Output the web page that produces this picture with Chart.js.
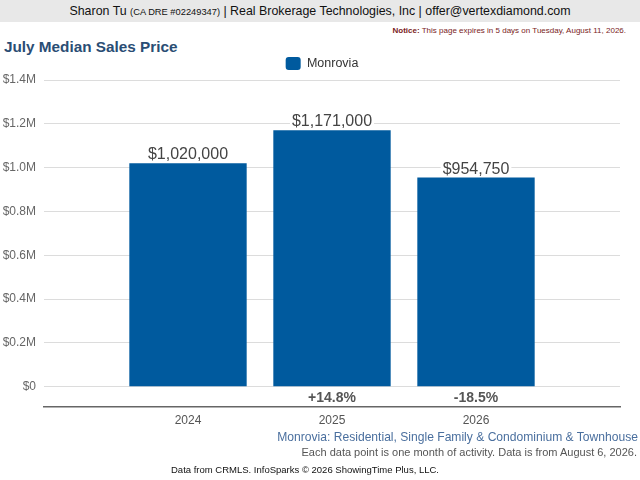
<!DOCTYPE html>
<html>
<head>
<meta charset="utf-8">
<script src="https://cdn.jsdelivr.net/npm/chart.js@4"></script>
<style>
  html, body { margin: 0; padding: 0; width: 640px; height: 480px; overflow: hidden; background: #fff;
    font-family: "Liberation Sans", Arial, sans-serif; }
  .hdr { position: absolute; left: 0; top: 0; width: 640px; height: 22px; background: #e8e8e8;
    text-align: center; font-size: 12.4px; line-height: 22px; color: #111; }
  .hdr small { font-size: 9.3px; }
  .notice { position: absolute; right: 14px; top: 26px; font-size: 8px; color: #7a1c1c; }
  .title { position: absolute; left: 4px; top: 38px; font-size: 15.3px; font-weight: bold; color: #2a4d74; }
  .sub1 { position: absolute; right: 2px; top: 430px; font-size: 12.1px; color: #4a6f9e; }
  .sub2 { position: absolute; right: 3px; top: 446px; font-size: 11px; color: #555; }
  .src { position: absolute; left: 0; width: 610px; text-align: center; top: 464px; font-size: 9.5px; color: #111; }
  .wrap { position: absolute; left: 0; top: 47px; width: 640px; height: 388px; }
</style>
</head>
<body>
<div class="hdr">Sharon Tu <small>(CA DRE #02249347)</small> | Real Brokerage Technologies, Inc | offer@vertexdiamond.com</div>
<div class="notice"><b>Notice:</b> This page expires in 5 days on Tuesday, August 11, 2026.</div>
<div class="title">July Median Sales Price</div>
<div class="wrap"><canvas id="c" width="640" height="388"></canvas></div>
<div class="sub1">Monrovia: Residential, Single Family &amp; Condominium &amp; Townhouse</div>
<div class="sub2">Each data point is one month of activity. Data is from August 6, 2026.</div>
<div class="src">Data from CRMLS. InfoSparks © 2026 ShowingTime Plus, LLC.</div>
<script>
// categories (padded with empty slots on each side, like the original)
const years = ['', '2024', '2025', '2026', ''];
const medianPrice = [null, 1020000, 1171000, 954750, null];
const yTicks = [0, 200000, 400000, 600000, 800000, 1000000, 1200000, 1400000];
const seriesName = 'Monrovia';
const barColor = '#005a9e';

function money(v) {
  return '$' + v.toLocaleString('en-US');
}
function tickMoney(v) {
  return v === 0 ? '$0' : '$' + (v / 1e6).toFixed(1) + 'M';
}

// value labels above the bars, change % below the zero line
const barLabels = {
  id: 'barLabels',
  afterLayout(chart) {
    // legend sits a bit right of the canvas centre
    const shift = (chart.chartArea.left + chart.chartArea.right) / 2 - 10 - (chart.legend.left + chart.legend.right) / 2;
    chart.legend.left += shift;
    chart.legend.right += shift;
  },
  afterDatasetsDraw(chart) {
    const ctx = chart.ctx;
    const meta = chart.getDatasetMeta(0);
    const yScale = chart.scales.y;
    ctx.save();
    ctx.textAlign = 'center';
    meta.data.forEach((bar, i) => {
      const v = medianPrice[i];
      if (v == null) return;
      ctx.font = '16px "Liberation Sans", Arial, sans-serif';
      const txt = money(v);
      const w = ctx.measureText(txt).width;
      ctx.fillStyle = '#fff';
      ctx.fillRect(bar.x - w / 2 - 2, bar.y - 20, w + 4, 17);
      ctx.fillStyle = '#444';
      ctx.textBaseline = 'alphabetic';
      ctx.fillText(txt, bar.x, bar.y - 4);

      const prev = medianPrice[i - 1];
      if (prev != null) {
        const pct = (v - prev) / prev * 100;
        const s = (pct >= 0 ? '+' : '') + pct.toFixed(1) + '%';
        ctx.font = 'bold 14px "Liberation Sans", Arial, sans-serif';
        ctx.fillStyle = '#555';
        ctx.textBaseline = 'middle';
        const y0 = yScale.getPixelForValue(0);
        ctx.fillText(s, bar.x, (y0 + chart.chartArea.bottom) / 2 + 1);
      }
    });
    ctx.restore();
  }
};

new Chart(document.getElementById('c'), {
  type: 'bar',
  data: {
    labels: years,
    datasets: [{
      label: seriesName,
      data: medianPrice,
      backgroundColor: barColor,
      borderWidth: 0,
      categoryPercentage: 1,
      barPercentage: 0.815,
    }],
  },
  options: {
    responsive: false,
    animation: false,
    devicePixelRatio: 1,
    layout: { padding: { left: 0, right: 20, top: 0, bottom: 0 } },
    scales: {
      x: {
        offset: false,
        grid: { display: false, drawTicks: false },
        border: { display: true, color: '#666', width: 1.5 },
        ticks: { color: '#555', font: { size: 12, family: '"Liberation Sans", Arial' }, padding: 7, maxRotation: 0, autoSkip: false },
      },
      y: {
        min: -90909,
        max: 1400000,
        afterBuildTicks: (s) => { s.ticks = yTicks.map((v) => ({ value: v })); },
        afterFit: (s) => { s.width = 44; },
        grid: { color: '#dcdcdc', drawTicks: false, lineWidth: 1 },
        border: { display: false },
        ticks: { color: '#666', font: { size: 12, family: '"Liberation Sans", Arial' }, padding: 8, callback: tickMoney },
      },
    },
    plugins: {
      legend: {
        display: true,
        labels: {
          color: '#333',
          font: { size: 12.5, family: '"Liberation Sans", Arial' },
          boxWidth: 15,
          boxHeight: 13,
          useBorderRadius: true,
          borderRadius: 3,
          padding: 10,
        },
      },
      tooltip: { enabled: false },
    },
  },
  plugins: [barLabels],
});
</script>
</body>
</html>
